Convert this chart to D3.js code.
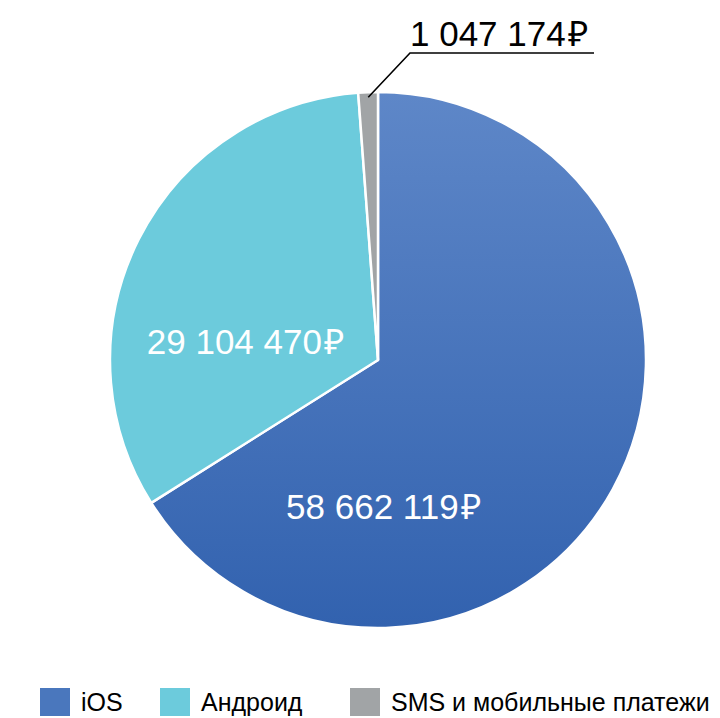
<!DOCTYPE html>
<html>
<head>
<meta charset="utf-8">
<script src="https://cdn.jsdelivr.net/npm/d3@7"></script>
<style>
  html, body { margin: 0; padding: 0; background: #fff; }
  svg { display: block; }
  text { font-family: "Liberation Sans", Arial, Helvetica, sans-serif; }
</style>
</head>
<body>
<svg id="chart" width="720" height="718"></svg>
<script>
const categories = ['iOS', 'Андроид', 'SMS и мобильные платежи'];
const revenue = [58662119, 29104470, 1047174];
const valueLabels = ['58 662 119', '29 104 470', '1 047 174'];
const currency = '₽';

const W = 720, H = 718;
const CX = 378, CY = 360, R = 268;

const svg = d3.select('#chart');
const defs = svg.append('defs');

// gradient lives in the translated group's coordinates
const grad = defs.append('linearGradient')
  .attr('id', 'ios-grad')
  .attr('gradientUnits', 'userSpaceOnUse')
  .attr('x1', 0).attr('y1', -R).attr('x2', 0).attr('y2', R);
grad.append('stop').attr('offset', '0%').attr('stop-color', '#5e87c8');
grad.append('stop').attr('offset', '100%').attr('stop-color', '#3262af');

const fills = ['url(#ios-grad)', '#6ccbdc', '#a1a4a6'];
const legendColors = ['#4a77bd', '#6ccbdc', '#a1a4a6'];

const color = d3.scaleOrdinal().domain(categories).range(fills);

const pie = d3.pie().sort(null).value(d => d.value);
const arcs = pie(categories.map((c, i) => ({ name: c, value: revenue[i], label: valueLabels[i] })));
const arc = d3.arc().innerRadius(0).outerRadius(R);

const g = svg.append('g').attr('transform', `translate(${CX},${CY})`);

g.selectAll('path.slice').data(arcs).enter().append('path')
  .attr('class', 'slice')
  .attr('d', arc)
  .attr('fill', d => color(d.data.name))
  .attr('stroke', '#fff')
  .attr('stroke-width', 2.5)
  .attr('stroke-linejoin', 'round');

function money(sel) {
  sel.append('tspan').text(d => d.data.label);
  sel.append('tspan').attr('dx', 2).text(currency);
}

// inside labels (offsets as fractions of radius, Excel-like placement)
const insideOffsets = { 'iOS': [0.02, 0.545], 'Андроид': [-0.495, -0.07] };
g.selectAll('text.inside').data(arcs.filter(d => insideOffsets[d.data.name])).enter().append('text')
  .attr('class', 'inside')
  .attr('x', d => insideOffsets[d.data.name][0] * R)
  .attr('y', d => insideOffsets[d.data.name][1] * R)
  .attr('dy', '0.36em')
  .attr('text-anchor', 'middle')
  .attr('font-size', 35)
  .attr('fill', '#fff')
  .call(money);

// outside label for the small slice
const small = arcs[2];
const mid = (small.startAngle + small.endAngle) / 2;
const p0 = [Math.sin(mid) * (R - 5), -Math.cos(mid) * (R - 5)];
const elbow = [410 - CX, 53 - CY];
const tail = [594 - CX, 53 - CY];
g.append('path')
  .attr('d', d3.line()([p0, elbow, tail]))
  .attr('fill', 'none')
  .attr('stroke', '#000')
  .attr('stroke-width', 1.6);
g.append('text').datum(small)
  .attr('x', elbow[0])
  .attr('y', elbow[1] - 7)
  .attr('font-size', 35)
  .attr('fill', '#000')
  .call(money);

// legend
const legendX = [40, 160, 350];
const legend = svg.append('g').attr('transform', 'translate(0,688)');
const item = legend.selectAll('g').data(categories).enter().append('g')
  .attr('transform', (d, i) => `translate(${legendX[i]},0)`);
item.append('rect')
  .attr('width', 30).attr('height', 28)
  .attr('fill', (d, i) => legendColors[i]);
item.append('text')
  .attr('x', 41).attr('y', 14).attr('dy', '0.36em')
  .attr('font-size', 25)
  .attr('fill', '#000')
  .text(d => d);
</script>
</body>
</html>
